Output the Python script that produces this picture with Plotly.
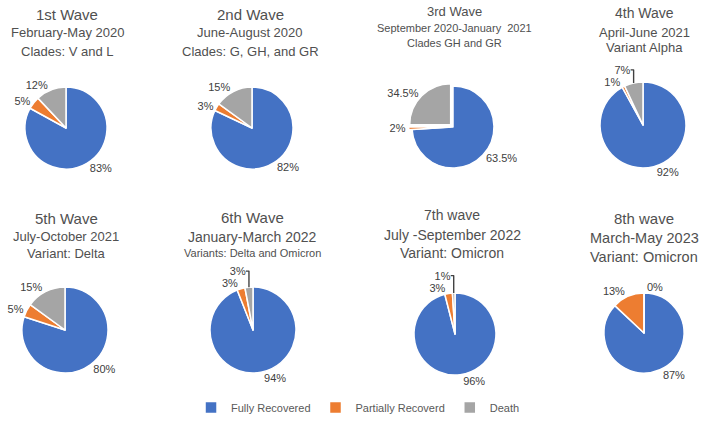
import plotly.graph_objects as go

# ---- data ----
categories = ["Fully Recovered", "Partially Recoverd", "Death"]
waves = ["1st Wave", "2nd Wave", "3rd Wave", "4th Wave",
         "5th Wave", "6th Wave", "7th wave", "8th wave"]
periods = ["February-May 2020", "June-August 2020", "September 2020-January  2021",
           "April-June 2021", "July-October 2021", "January-March 2022",
           "July -September 2022", "March-May 2023"]
variants = ["Clades: V and L", "Clades: G, GH, and GR", "Clades GH and GR",
            "Variant Alpha", "Variant: Delta", "Variants: Delta and Omicron",
            "Variant: Omicron", "Variant: Omicron"]
# slice sizes as drawn in the picture
fully = [83, 82, 74, 92, 80, 94, 96, 87]
partial = [5, 3, 1, 1, 5, 3, 3, 13]
death = [12, 15, 25, 7, 15, 3, 1, 0]
# percentages as printed on the slices
fully_lbl = ["83%", "82%", "63.5%", "92%", "80%", "94%", "96%", "87%"]
partial_lbl = ["5%", "3%", "2%", "1%", "5%", "3%", "3%", "13%"]
death_lbl = ["12%", "15%", "34.5%", "7%", "15%", "3%", "1%", "0%"]

# ---- layout / style ----
W, H = 702, 422
colors = ["#4472C4", "#ED7D31", "#A5A5A5"]
centers = [(66, 128), (252, 128), (453, 127), (643, 125),
           (65, 330), (253, 330), (455, 334), (644, 333)]
radii = [41, 41, 41, 43, 43, 43, 41, 40]
pulls = [[0, 0, 0]] * 8
pulls[2] = [0, 0.08, 0.08]
title_y = [(15, 33, 52), (15, 33, 52), (12, 28, 43), (13, 32, 48),
           (218, 236, 253), (217, 237, 253), (215, 235, 253), (218, 238, 257)]
title_x = [67, 250, 454, 644, 66, 252, 452, 644]
size1 = [15, 15, 13, 14, 15, 15, 14, 15]
size2 = [13, 13, 11, 13, 13, 14, 14, 14.5]
size3 = [13, 13, 11, 13, 13, 11, 14, 14.5]
FONT = "Liberation Sans, Arial, sans-serif"

fig = go.Figure()
annotations = []
for i in range(8):
    vals = [fully[i], partial[i], death[i]]
    txts = [fully_lbl[i], partial_lbl[i], death_lbl[i]]
    cx, cy = centers[i]
    r = radii[i] * (1 + max(pulls[i]))
    fig.add_trace(go.Pie(
        labels=categories,
        values=vals,
        text=txts,
        textinfo="text",
        textposition="outside",
        textfont=dict(size=11, color="#404040", family=FONT),
        sort=False,
        direction="clockwise",
        rotation=0,
        pull=pulls[i],
        marker=dict(colors=colors, line=dict(color="white", width=1.5)),
        domain=dict(x=[(cx - r) / W, (cx + r) / W],
                    y=[1 - (cy + r) / H, 1 - (cy - r) / H]),
        hoverinfo="label+text",
        showlegend=(i == 0),
    ))
    for txt, yy, sz in zip((waves[i], periods[i], variants[i]), title_y[i],
                           (size1[i], size2[i], size3[i])):
        annotations.append(dict(
            text=txt, x=title_x[i] / W, y=1 - yy / H, xref="paper", yref="paper",
            xanchor="center", yanchor="middle", showarrow=False,
            font=dict(size=sz, color="#505050", family=FONT)))

fig.update_layout(
    width=W, height=H,
    margin=dict(l=0, r=0, t=0, b=0),
    paper_bgcolor="white", plot_bgcolor="white",
    annotations=annotations,
    legend=dict(orientation="h", x=0.51, xanchor="center", y=0.0, yanchor="bottom",
                font=dict(size=11, color="#595959", family=FONT),
                itemwidth=30, traceorder="normal"),
)

fig.write_html("out.html")
